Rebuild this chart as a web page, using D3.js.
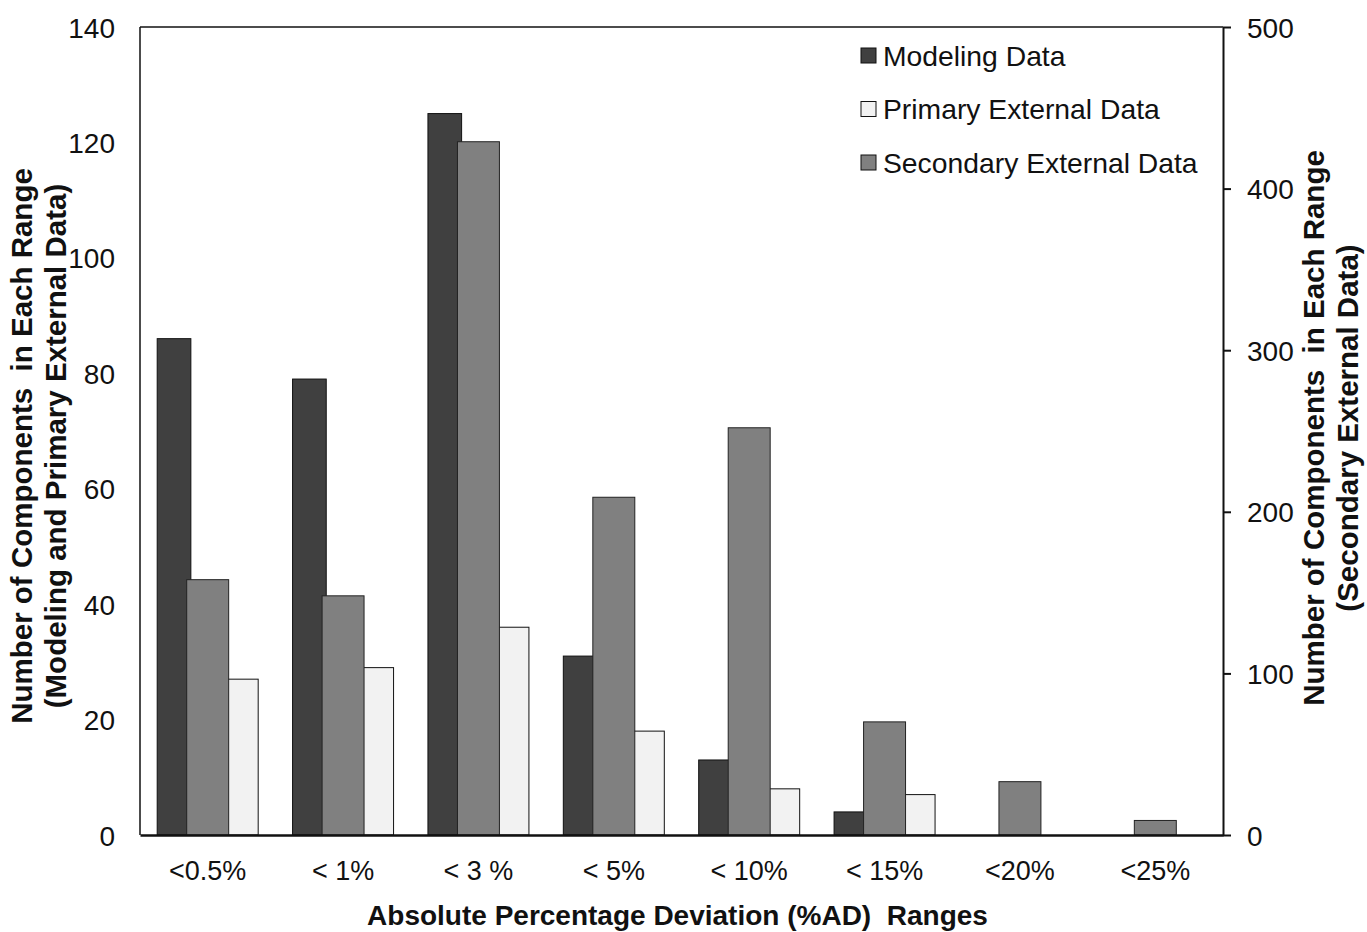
<!DOCTYPE html>
<html>
<head>
<meta charset="utf-8">
<script src="https://cdn.jsdelivr.net/npm/d3@7"></script>
<style>
    body { margin: 0; background: #fff; }
    svg text { font-family: "Liberation Sans", Arial, sans-serif; fill: #111; }
</style>
</head>
<body>
<div id="chart"></div>
<script>
// Data
const categories = ['<0.5%', '< 1%', '< 3 %', '< 5%', '< 10%', '< 15%', '<20%', '<25%'];
const modelingData = [86, 79, 125, 31, 13, 4, 0, 0];          // left axis
const primaryExternal = [27, 29, 36, 18, 8, 7, 0, 0];         // left axis
const secondaryExternal = [158, 148, 429, 209, 252, 70, 33, 9]; // right axis
const leftTicks = [0, 20, 40, 60, 80, 100, 120, 140];
const rightTicks = [0, 100, 200, 300, 400, 500];

const seriesNames = ['Modeling Data', 'Primary External Data', 'Secondary External Data'];
const seriesColors = ['#404040', '#f2f2f2', '#808080'];

const W = 1367, H = 932;
const margin = { top: 27, right: 144, bottom: 97, left: 140 };
const plotW = W - margin.left - margin.right;
const plotH = H - margin.top - margin.bottom;

const svg = d3.select('#chart').append('svg')
    .attr('width', W)
    .attr('height', H);

const g = svg.append('g')
    .attr('transform', `translate(${margin.left},${margin.top})`);

// Scales
const x0 = d3.scaleBand()
    .domain(categories)
    .range([0, plotW])
    .paddingInner(0.254)
    .paddingOuter(0.127);

const x1 = d3.scaleBand()
    .domain(['model', 'primary'])
    .range([0, x0.bandwidth()])
    .paddingInner(0.5);

const xs = d3.scaleBand()
    .domain(categories)
    .range([0, plotW])
    .paddingInner(0.69)
    .paddingOuter(0.345);

const yLeft = d3.scaleLinear().domain([0, 140]).range([plotH, 0]);
const yRight = d3.scaleLinear().domain([0, 500]).range([plotH, 0]);

// Bars: modeling and primary external on the left axis
g.selectAll('.bar-model')
    .data(modelingData)
    .enter()
    .append('rect')
    .attr('class', 'bar-model')
    .attr('x', (d, i) => x0(categories[i]) + x1('model'))
    .attr('y', d => yLeft(d))
    .attr('width', x1.bandwidth())
    .attr('height', d => plotH - yLeft(d))
    .attr('fill', seriesColors[0])
    .attr('stroke', d => d > 0 ? '#111' : 'none')
    .attr('stroke-width', 1);

g.selectAll('.bar-primary')
    .data(primaryExternal)
    .enter()
    .append('rect')
    .attr('class', 'bar-primary')
    .attr('x', (d, i) => x0(categories[i]) + x1('primary'))
    .attr('y', d => yLeft(d))
    .attr('width', x1.bandwidth())
    .attr('height', d => plotH - yLeft(d))
    .attr('fill', seriesColors[1])
    .attr('stroke', d => d > 0 ? '#111' : 'none')
    .attr('stroke-width', 1);

// Secondary external on the right axis, drawn on top
g.selectAll('.bar-secondary')
    .data(secondaryExternal)
    .enter()
    .append('rect')
    .attr('class', 'bar-secondary')
    .attr('x', (d, i) => xs(categories[i]))
    .attr('y', d => yRight(d))
    .attr('width', xs.bandwidth())
    .attr('height', d => plotH - yRight(d))
    .attr('fill', seriesColors[2])
    .attr('stroke', '#222')
    .attr('stroke-width', 1);

// Frame
g.append('line').attr('x1', 0).attr('x2', plotW).attr('y1', 0).attr('y2', 0)
    .attr('stroke', '#111').attr('stroke-width', 1.5);
g.append('line').attr('x1', 0).attr('x2', 0).attr('y1', 0).attr('y2', plotH)
    .attr('stroke', '#111').attr('stroke-width', 1.5);

// Left axis (labels only)
const leftAxis = g.append('g')
    .call(d3.axisLeft(yLeft).tickValues(leftTicks).tickSize(0).tickPadding(25));
leftAxis.select('.domain').remove();
leftAxis.selectAll('text')
    .style('font-size', '28px')
    .attr('dy', '0.36em');

// Right axis
const rightAxis = g.append('g')
    .attr('transform', `translate(${plotW},0)`)
    .call(d3.axisRight(yRight).tickValues(rightTicks).tickSize(8).tickSizeOuter(0).tickPadding(16));
rightAxis.select('.domain').attr('stroke', '#111').attr('stroke-width', 2);
rightAxis.selectAll('.tick line').attr('stroke', '#111').attr('stroke-width', 2);
rightAxis.selectAll('text')
    .style('font-size', '28px')
    .attr('dy', '0.36em');

// Bottom axis
const bottomAxis = g.append('g')
    .attr('transform', `translate(0,${plotH})`)
    .call(d3.axisBottom(x0).tickSize(0).tickSizeOuter(0).tickPadding(26));
bottomAxis.select('.domain').attr('stroke', '#111').attr('stroke-width', 2.5);
bottomAxis.selectAll('text')
    .style('font-size', '27px')
    .style('white-space', 'pre');

// Axis titles
svg.append('text')
    .attr('x', margin.left + plotW / 2 - 4)
    .attr('y', 925)
    .attr('text-anchor', 'middle')
    .style('font-size', '28px')
    .style('font-weight', 'bold')
    .style('white-space', 'pre')
    .text('Absolute Percentage Deviation (%AD)  Ranges');

const leftTitle = svg.append('text')
    .attr('transform', 'translate(0,446) rotate(-90)')
    .attr('text-anchor', 'middle')
    .style('font-size', '29.5px')
    .style('font-weight', 'bold')
    .style('white-space', 'pre');
leftTitle.append('tspan').attr('x', 0).attr('y', 32).text('Number of Components  in Each Range');
leftTitle.append('tspan').attr('x', 0).attr('y', 66).text('(Modeling and Primary External Data)');

const rightTitle = svg.append('text')
    .attr('transform', 'translate(0,428) rotate(-90)')
    .attr('text-anchor', 'middle')
    .style('font-size', '29.5px')
    .style('font-weight', 'bold')
    .style('white-space', 'pre');
rightTitle.append('tspan').attr('x', 0).attr('y', 1324).text('Number of Components  in Each Range');
rightTitle.append('tspan').attr('x', 0).attr('y', 1358).text('(Secondary External Data)');

// Legend
const legend = svg.append('g')
    .attr('transform', 'translate(861,48)');

const legendRows = legend.selectAll('.legend-row')
    .data(seriesNames)
    .enter()
    .append('g')
    .attr('class', 'legend-row')
    .attr('transform', (d, i) => `translate(0,${i * 53.5})`);

legendRows.append('rect')
    .attr('width', 15)
    .attr('height', 15)
    .attr('fill', (d, i) => seriesColors[i])
    .attr('stroke', '#111')
    .attr('stroke-width', 1);

legendRows.append('text')
    .attr('x', 22)
    .attr('y', 7.5)
    .attr('dy', '0.36em')
    .style('font-size', '28.3px')
    .text(d => d);
</script>
</body>
</html>
